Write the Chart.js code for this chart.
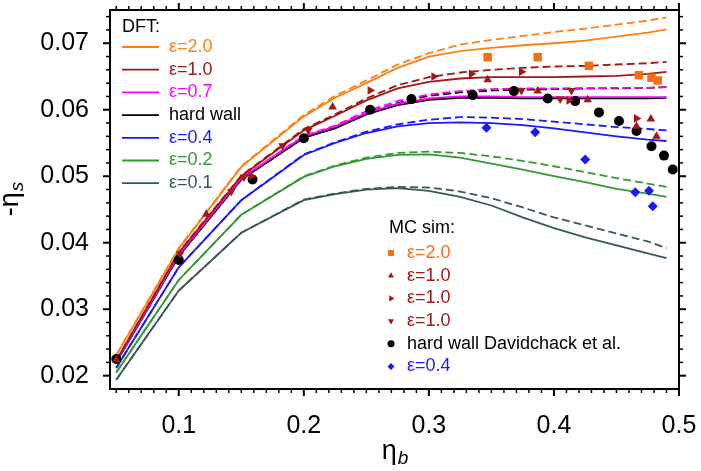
<!DOCTYPE html>
<html>
<head>
<meta charset="utf-8">
<script src="https://cdn.jsdelivr.net/npm/chart.js@4.4.0/dist/chart.umd.min.js"></script>
<style>
  html, body { margin: 0; padding: 0; background: #fff; }
  #wrap { position: relative; width: 701px; height: 471px; }
</style>
</head>
<body>
<div id="wrap"><canvas id="myChart"></canvas></div>
<script>
  // *****************Data*****************
  // bulk packing fraction grid of the DFT curves
  const etaB = [0.05, 0.1, 0.15, 0.2, 0.225, 0.25, 0.275, 0.3, 0.325, 0.35, 0.375, 0.4, 0.425, 0.45, 0.475, 0.49];

  // DFT, solid and dashed versions
  const dft20 = [0.0231, 0.0391, 0.0514, 0.0590, 0.0618, 0.0640, 0.0663, 0.0680, 0.0688, 0.0693, 0.0697, 0.0700, 0.0704, 0.0710, 0.0716, 0.0721];
  const dft20d = [0.0231, 0.0392, 0.0515, 0.0592, 0.0621, 0.0644, 0.0668, 0.0685, 0.0698, 0.0705, 0.0711, 0.0717, 0.0722, 0.0728, 0.0734, 0.0739];
  const dft10 = [0.0223, 0.0385, 0.0500, 0.0569, 0.0591, 0.0614, 0.0632, 0.0642, 0.0647, 0.0649, 0.0649, 0.0649, 0.0650, 0.0651, 0.0654, 0.0657];
  const dft10d = [0.0223, 0.0386, 0.0501, 0.0571, 0.0593, 0.0617, 0.0637, 0.0649, 0.0656, 0.0660, 0.0663, 0.0665, 0.0666, 0.0668, 0.0670, 0.0672];
  const dft07 = [0.0221, 0.0382, 0.0497, 0.0560, 0.0575, 0.0595, 0.0609, 0.0617, 0.0620, 0.0620, 0.0619, 0.0619, 0.0619, 0.0619, 0.0619, 0.0619];
  const dft07d = [0.0221, 0.0382, 0.0497, 0.0561, 0.0576, 0.0598, 0.0613, 0.0623, 0.0628, 0.0631, 0.0632, 0.0632, 0.0632, 0.0633, 0.0633, 0.0634];
  const dftHW = [0.0220, 0.0380, 0.0495, 0.0558, 0.0572, 0.0593, 0.0607, 0.0615, 0.0618, 0.0618, 0.0617, 0.0617, 0.0617, 0.0617, 0.0617, 0.0618];
  const dftHWd = [0.0220, 0.0380, 0.0495, 0.0558, 0.0573, 0.0595, 0.0610, 0.0621, 0.0626, 0.0629, 0.0630, 0.0631, 0.0632, 0.0632, 0.0633, 0.0634];
  const dft04 = [0.0212, 0.0363, 0.0464, 0.0532, 0.0550, 0.0565, 0.0575, 0.0580, 0.0581, 0.0580, 0.0577, 0.0572, 0.0566, 0.0560, 0.0555, 0.0553];
  const dft04d = [0.0212, 0.0363, 0.0464, 0.0533, 0.0551, 0.0567, 0.0578, 0.0585, 0.0589, 0.0588, 0.0586, 0.0582, 0.0578, 0.0574, 0.0571, 0.0569];
  const dft02 = [0.0205, 0.0344, 0.0442, 0.0499, 0.0515, 0.0526, 0.0532, 0.0533, 0.0528, 0.0519, 0.0510, 0.0500, 0.0491, 0.0481, 0.0474, 0.0469];
  const dft02d = [0.0205, 0.0344, 0.0442, 0.0500, 0.0516, 0.0528, 0.0535, 0.0537, 0.0535, 0.0530, 0.0523, 0.0515, 0.0506, 0.0497, 0.0489, 0.0484];
  const dft01 = [0.0194, 0.0328, 0.0415, 0.0464, 0.0473, 0.0480, 0.0482, 0.0478, 0.0469, 0.0456, 0.0438, 0.0422, 0.0408, 0.0396, 0.0384, 0.0377];
  const dft01d = [0.0194, 0.0328, 0.0415, 0.0465, 0.0474, 0.0481, 0.0484, 0.0483, 0.0477, 0.0467, 0.0453, 0.0438, 0.0426, 0.0414, 0.0402, 0.0392];

  // MC simulation points
  const mc20X = [0.347, 0.387, 0.428, 0.468, 0.478, 0.483];
  const mc20Y = [0.0679, 0.0679, 0.0666, 0.0652, 0.0648, 0.0644];
  const mcUpX = [0.05, 0.122, 0.223, 0.347, 0.387, 0.427, 0.466, 0.4775, 0.482];
  const mcUpY = [0.0224, 0.0443, 0.0604, 0.0645, 0.0628, 0.0615, 0.0575, 0.0586, 0.0560];
  const mcRightX = [0.158, 0.253, 0.304, 0.334, 0.374, 0.412, 0.466];
  const mcRightY = [0.0500, 0.0629, 0.0650, 0.0654, 0.0657, 0.0614, 0.0587];
  const mcDownX = [0.101, 0.142, 0.152, 0.183, 0.2035, 0.374, 0.405, 0.414];
  const mcDownY = [0.0383, 0.0477, 0.0499, 0.0546, 0.0569, 0.0629, 0.0616, 0.0629];
  const mcHWX = [0.05, 0.1, 0.159, 0.2, 0.253, 0.286, 0.335, 0.368, 0.395, 0.417, 0.436, 0.452, 0.466, 0.478, 0.488, 0.495];
  const mcHWY = [0.0225, 0.0374, 0.0495, 0.0557, 0.0600, 0.0616, 0.0622, 0.0628, 0.0617, 0.0613, 0.0596, 0.0583, 0.0568, 0.0545, 0.0531, 0.0510];
  const mc04X = [0.346, 0.385, 0.425, 0.465, 0.476, 0.479];
  const mc04Y = [0.0573, 0.0566, 0.0525, 0.0476, 0.0478, 0.0455];

  const xTicks = [0.1, 0.2, 0.3, 0.4, 0.5];
  const yTicks = [0.02, 0.03, 0.04, 0.05, 0.06, 0.07];

  // *****************Colors*****************
  const ORANGE = "#ff7f0e", SQUARE = "#f56e14", DARKRED = "#a01818", MAGENTA = "#ff00ff",
    BLUE = "#1a1af5", GREEN = "#339933", SLATE = "#3a5858";
  const FONT = "'Liberation Sans', Arial, Helvetica, sans-serif";

  const pts = (xs, ys) => xs.map((x, i) => ({ x: x, y: ys[i] }));

  const curve = (label, ys, color, dashed) => ({
    label: label,
    data: pts(etaB, ys),
    borderColor: color,
    backgroundColor: color,
    borderWidth: 1.8,
    borderDash: dashed ? [8, 4] : [],
    showLine: true,
    pointRadius: 0,
    tension: 0,
    order: 2,
    dft: !dashed,
  });

  const marks = (label, xs, ys, color, style, rot, r) => ({
    label: label,
    data: pts(xs, ys),
    borderColor: color,
    backgroundColor: color,
    pointStyle: style,
    rotation: rot,
    pointRadius: r,
    borderWidth: 0,
    showLine: false,
    order: 0,
    mc: true,
  });

  const datasets = [
    curve("ε=2.0", dft20, ORANGE, false),
    curve("ε=2.0", dft20d, ORANGE, true),
    curve("ε=1.0", dft10, DARKRED, false),
    curve("ε=1.0", dft10d, DARKRED, true),
    curve("ε=0.7", dft07, MAGENTA, false),
    curve("ε=0.7", dft07d, MAGENTA, true),
    curve("hard wall", dftHW, "#000", false),
    curve("hard wall", dftHWd, "#000", true),
    curve("ε=0.4", dft04, BLUE, false),
    curve("ε=0.4", dft04d, BLUE, true),
    curve("ε=0.2", dft02, GREEN, false),
    curve("ε=0.2", dft02d, GREEN, true),
    curve("ε=0.1", dft01, SLATE, false),
    curve("ε=0.1", dft01d, SLATE, true),
    marks("ε=2.0", mc20X, mc20Y, SQUARE, "rect", 0, 6),
    marks("ε=1.0", mcUpX, mcUpY, DARKRED, "triangle", 0, 5),
    marks("ε=1.0", mcRightX, mcRightY, DARKRED, "triangle", 90, 5),
    marks("ε=1.0", mcDownX, mcDownY, DARKRED, "triangle", 180, 5),
    marks("hard wall Davidchack et al.", mcHWX, mcHWY, "#000", "circle", 0, 5),
    marks("ε=0.4", mc04X, mc04Y, BLUE, "rectRot", 0, 5),
  ];

  // *****************Plugins*****************
  // frame on four sides with outward major/minor ticks
  const frameTicks = {
    id: "frameTicks",
    afterDraw(chart) {
      const { ctx, chartArea: a, scales: { x, y } } = chart;
      const line = (x1, y1, x2, y2, w) => {
        ctx.lineWidth = w;
        ctx.beginPath();
        ctx.moveTo(x1, y1);
        ctx.lineTo(x2, y2);
        ctx.stroke();
      };
      ctx.save();
      ctx.strokeStyle = "#000";
      ctx.lineWidth = 2;
      ctx.strokeRect(a.left, a.top, a.right - a.left, a.bottom - a.top);
      for (let i = 5; i <= 50; i++) {
        const px = x.getPixelForValue(i / 100);
        const major = i % 10 === 0;
        const len = major ? 7 : 4;
        line(px, a.bottom, px, a.bottom + len, major ? 2 : 1.5);
        line(px, a.top, px, a.top - len, major ? 2 : 1.5);
      }
      for (let i = 10; i <= 37; i++) {
        const py = y.getPixelForValue(i * 0.002);
        const major = i % 5 === 0;
        const len = major ? 7 : 4;
        line(a.left, py, a.left - len, py, major ? 2 : 1.5);
        line(a.right, py, a.right + len, py, major ? 2 : 1.5);
      }
      ctx.restore();
    },
  };

  const drawMark = (ctx, ds, px, py) => {
    Chart.helpers.drawPoint(ctx, {
      pointStyle: ds.pointStyle,
      rotation: ds.rotation,
      radius: ds.pointRadius,
      borderWidth: 0,
    }, px, py);
  };

  // the two legends inside the plot
  const legends = {
    id: "legends",
    afterDraw(chart) {
      const { ctx, chartArea: a } = chart;
      const step = 22.7;
      ctx.save();
      ctx.font = "18px " + FONT;
      ctx.textBaseline = "middle";
      ctx.textAlign = "left";

      ctx.fillStyle = "#000";
      ctx.fillText("DFT:", a.left + 12, a.top + 17);
      datasets.filter((d) => d.dft).forEach((d, i) => {
        const yy = a.top + 37 + i * step;
        ctx.strokeStyle = d.borderColor;
        ctx.lineWidth = 1.8;
        ctx.beginPath();
        ctx.moveTo(a.left + 12, yy);
        ctx.lineTo(a.left + 49, yy);
        ctx.stroke();
        ctx.fillStyle = d.borderColor;
        ctx.fillText(d.label, a.left + 59, yy);
      });

      ctx.fillStyle = "#000";
      ctx.fillText("MC sim:", a.left + 279, a.top + 218);
      datasets.filter((d) => d.mc).forEach((d, i) => {
        const yy = a.top + 243 + i * step;
        ctx.fillStyle = d.backgroundColor;
        ctx.strokeStyle = d.backgroundColor;
        drawMark(ctx, Object.assign({}, d, { pointRadius: d.pointRadius * 0.7 }), a.left + 281, yy);
        ctx.fillStyle = d.label.startsWith("hard") ? "#000" : d.backgroundColor;
        ctx.fillText(d.label, a.left + 297, yy);
      });
      ctx.restore();
    },
  };

  // axis titles with subscripts
  const axisTitles = {
    id: "axisTitles",
    afterDraw(chart) {
      const { ctx, chartArea: a } = chart;
      const sub = (main, s, cx, cy) => {
        ctx.font = "27px " + FONT;
        const w1 = ctx.measureText(main).width;
        ctx.font = "italic 19px " + FONT;
        const w2 = ctx.measureText(s).width;
        const x0 = cx - (w1 + w2) / 2;
        ctx.font = "27px " + FONT;
        ctx.fillText(main, x0, cy);
        ctx.font = "italic 19px " + FONT;
        ctx.fillText(s, x0 + w1 + 1, cy + 5);
      };
      ctx.save();
      ctx.fillStyle = "#000";
      ctx.textBaseline = "alphabetic";
      ctx.textAlign = "left";
      sub("η", "b", (a.left + a.right) / 2, 459);
      ctx.translate(18, (a.top + a.bottom) / 2);
      ctx.rotate(-Math.PI / 2);
      sub("-η", "s", 0, 0);
      ctx.restore();
    },
  };

  // *****************Chart*****************
  const config = {
    type: "scatter",
    data: { datasets: datasets },
    plugins: [frameTicks, legends, axisTitles],
    options: {
      responsive: true,
      maintainAspectRatio: false,
      animation: false,
      layout: { padding: { top: 10, right: 22, left: 0, bottom: 0 } },
      plugins: {
        legend: { display: false },
        tooltip: { enabled: false },
      },
      scales: {
        x: {
          type: "linear",
          min: 0.045,
          max: 0.5,
          afterFit: (s) => {
            s.height = 82;
            s.paddingLeft = 0;
            s.paddingRight = 0;
          },
          afterBuildTicks: (s) => { s.ticks = xTicks.map((v) => ({ value: v })); },
          grid: { display: false, drawTicks: false },
          border: { display: false },
          ticks: {
            padding: 22,
            color: "#000",
            font: { family: FONT, size: 25 },
            callback: (v) => v.toFixed(1),
          },
        },
        y: {
          type: "linear",
          min: 0.018,
          max: 0.075,
          afterFit: (s) => {
            s.width = 110;
            s.paddingTop = 0;
            s.paddingBottom = 0;
          },
          afterBuildTicks: (s) => { s.ticks = yTicks.map((v) => ({ value: v })); },
          grid: { display: false, drawTicks: false },
          border: { display: false },
          ticks: {
            padding: 21,
            color: "#000",
            font: { family: FONT, size: 25 },
            callback: (v) => v.toFixed(2),
          },
        },
      },
    },
  };

  const myChart = new Chart(document.getElementById("myChart"), config);
</script>
</body>
</html>
